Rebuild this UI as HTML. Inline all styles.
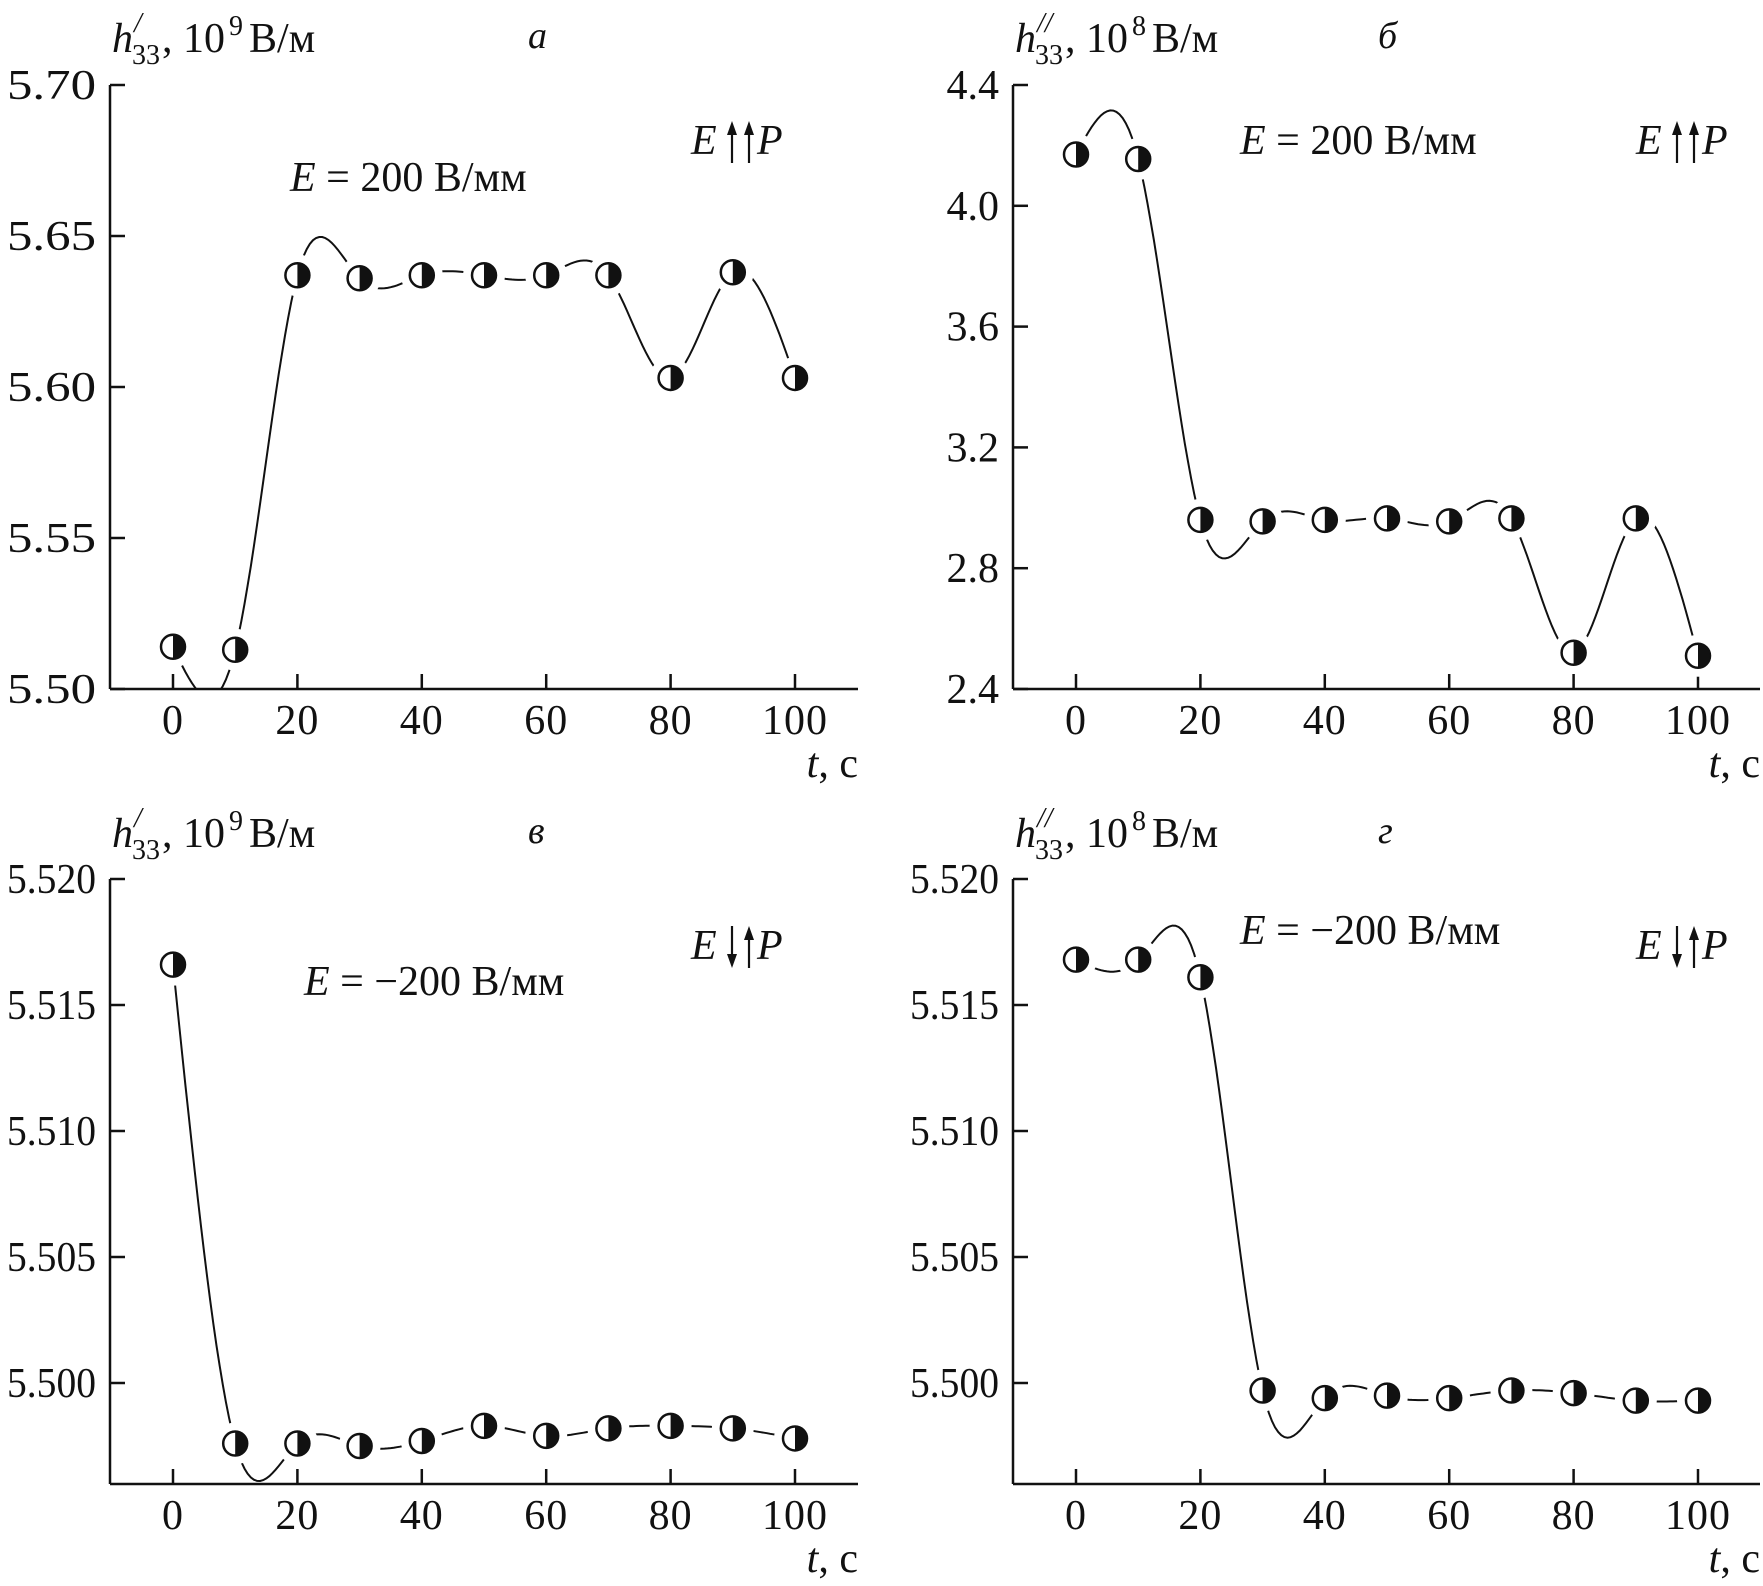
<!DOCTYPE html>
<html><head><meta charset="utf-8">
<style>
html,body{margin:0;padding:0;background:#fff;}
svg{display:block;}
text{font-family:"Liberation Serif",serif;fill:#111;}
</style></head>
<body>
<svg id="fig" width="1763" height="1586" viewBox="0 0 1763 1586" xmlns="http://www.w3.org/2000/svg"></svg>
<script>
const times = [0,10,20,30,40,50,60,70,80,90,100];
const seriesA = [5.514,5.513,5.637,5.636,5.637,5.637,5.637,5.637,5.603,5.638,5.603];
const seriesB = [4.17,4.155,2.96,2.955,2.96,2.965,2.955,2.965,2.52,2.965,2.51];
const seriesC = [5.5166,5.4976,5.4976,5.4975,5.4977,5.4983,5.4979,5.4982,5.4983,5.4982,5.4978];
const seriesD = [5.5168,5.5168,5.5161,5.4997,5.4994,5.4995,5.4994,5.4997,5.4996,5.4993,5.4993];
const xTicks = [0,20,40,60,80,100];
const yTicksA = [5.50,5.55,5.60,5.65,5.70];
const yTicksB = [2.4,2.8,3.2,3.6,4.0,4.4];
const yTicksC = [5.500,5.505,5.510,5.515,5.520];
const yTicksD = [5.500,5.505,5.510,5.515,5.520];

const NS="http://www.w3.org/2000/svg";
const svg=document.getElementById('fig');
function mk(tag,attrs,parent){const e=document.createElementNS(NS,tag);for(const k in attrs)e.setAttribute(k,attrs[k]);(parent||svg).appendChild(e);return e;}

function spline(xs,ys){
  const n=xs.length,h=[],al=[],l=[1],mu=[0],z=[0],c=new Array(n).fill(0),b=[],d=[];
  for(let i=0;i<n-1;i++)h.push(xs[i+1]-xs[i]);
  for(let i=1;i<n-1;i++)al[i]=3/h[i]*(ys[i+1]-ys[i])-3/h[i-1]*(ys[i]-ys[i-1]);
  for(let i=1;i<n-1;i++){l[i]=2*(xs[i+1]-xs[i-1])-h[i-1]*mu[i-1];mu[i]=h[i]/l[i];z[i]=(al[i]-h[i-1]*z[i-1])/l[i];}
  for(let j=n-2;j>=0;j--){c[j]=z[j]-mu[j]*c[j+1];b[j]=(ys[j+1]-ys[j])/h[j]-h[j]*(c[j+1]+2*c[j])/3;d[j]=(c[j+1]-c[j])/(3*h[j]);}
  return t=>{let j=xs.findIndex((v,i)=>i<n-1&&t<=xs[i+1]);if(j<0)j=n-2;const dx=t-xs[j];return ys[j]+b[j]*dx+c[j]*dx*dx+d[j]*dx*dx*dx;};
}

function arrow(g,x,top,bot,up){
  mk('line',{x1:x,y1:up?top+10:top,x2:x,y2:up?bot:bot-10,stroke:'#111','stroke-width':2.2},g);
  if(up) mk('path',{d:`M${x-5},${top+14} L${x},${top} L${x+5},${top+14} Z`,fill:'#111'},g);
  else mk('path',{d:`M${x-5},${bot-14} L${x},${bot} L${x+5},${bot-14} Z`,fill:'#111'},g);
}

function panel(cfg){
  const g=mk('g',{});
  
  
  const X=v=>cfg.x0+v*(cfg.x100-cfg.x0)/100;
  const Y=v=>cfg.yTop+(cfg.yMax-v)*(cfg.yBot-cfg.yTop)/(cfg.yMax-cfg.yMin);
  const cid='clip'+cfg.id;
  const cp=mk('clipPath',{id:cid},g);
  mk('rect',{x:cfg.ax,y:cfg.yTop-40,width:cfg.axEnd-cfg.ax,height:cfg.axY-cfg.yTop+40},cp);
  const ya=mk('line',{x1:cfg.ax,y1:cfg.yTop,x2:cfg.ax,y2:cfg.axY,stroke:'#111','stroke-width':2.5},g);
  
  
  const xa=mk('line',{x1:cfg.ax,y1:cfg.axY,x2:cfg.axEnd,y2:cfg.axY,stroke:'#111','stroke-width':2.5},g);
  
  
  cfg.yTicks.forEach(v=>{
    const t=mk('line',{x1:cfg.ax,y1:Y(v),x2:cfg.ax+15,y2:Y(v),stroke:'#111','stroke-width':2.5},g);
    
    
    const s=v.toFixed(cfg.dec);
    const attrs={x:cfg.ax-14,y:Y(v)+14,'text-anchor':'end','font-size':42};
    if(s.length>=4){attrs.textLength=89;attrs.lengthAdjust='spacingAndGlyphs';}
    const lb=mk('text',attrs,g);
    
    
    lb.textContent=s;
  });
  xTicks.forEach(v=>{
    const t=mk('line',{x1:X(v),y1:cfg.axY,x2:X(v),y2:cfg.axY-15,stroke:'#111','stroke-width':2.5},g);
    
    
    const lb=mk('text',{x:X(v),y:cfg.axY+45,'text-anchor':'middle','font-size':42,'letter-spacing':1},g);
    
    
    lb.textContent=v;
  });
  const f=spline(times,cfg.data);
  let d='';
  for(let t=0;t<=100;t+=0.5){d+=(t===0?'M':'L')+X(t).toFixed(1)+','+Y(f(t)).toFixed(1);}
  const cg=mk('g',{'clip-path':'url(#'+cid+')'},g);
  const path=mk('path',{d:d,fill:'none',stroke:'#111','stroke-width':2},cg);
  
  
  times.forEach((t,i)=>{ mk('circle',{cx:X(t),cy:Y(cfg.data[i]),r:21,fill:'#fff'},g); });
  times.forEach((t,i)=>{
    const cx=X(t),cy=Y(cfg.data[i]),r=12;
    const m=mk('g',{},g);
    
    
    mk('circle',{cx:cx,cy:cy,r:r,fill:'#fff',stroke:'#111','stroke-width':2.5},m);
    mk('path',{d:`M${cx},${cy-r} A${r},${r} 0 0 1 ${cx},${cy+r} Z`,fill:'#111'},m);
  });
  const tx=cfg.ax+2, ty=cfg.titleY;
  const tg=mk('g',{},g);
  
  
  const t1=mk('text',{x:tx,y:ty,'font-size':42,'font-style':'italic'},tg); t1.textContent='h';
  const t2=mk('text',{x:tx+20,y:ty+12,'font-size':28},tg); t2.textContent='33';
  const t3=mk('text',{x:tx+22,y:ty-20,'font-size':28,'font-style':'italic'},tg); t3.textContent=cfg.prime;
  const t4=mk('text',{x:tx+50,y:ty,'font-size':42},tg); t4.textContent=', 10';
  const t5=mk('text',{x:tx+117,y:ty-17,'font-size':28},tg); t5.textContent=cfg.exp;
  const t6=mk('text',{x:tx+137,y:ty,'font-size':42},tg); t6.textContent='В/м';
  const pl=mk('text',{x:cfg.letterX,y:cfg.titleY-4,'font-size':38,'font-style':'italic'},g);
  
  
  pl.textContent=cfg.letter;
  const el=mk('text',{x:cfg.eX,y:cfg.eY,'font-size':42},g);
  
  
  el.innerHTML='<tspan font-style="italic">E</tspan> = '+cfg.eText+' В/мм';
  const dg=mk('g',{},g);
  
  
  const de=mk('text',{x:cfg.dirX,y:cfg.dirY,'font-size':42,'font-style':'italic'},dg); de.textContent='E';
  arrow(dg,cfg.dirX+41,cfg.dirY-33,cfg.dirY+9,cfg.firstUp);
  arrow(dg,cfg.dirX+58,cfg.dirY-33,cfg.dirY+9,true);
  const dp=mk('text',{x:cfg.dirX+66,y:cfg.dirY,'font-size':42,'font-style':'italic'},dg); dp.textContent='P';
  const xt=mk('text',{x:cfg.axEnd,y:cfg.axY+88,'text-anchor':'end','font-size':42},g);
  
  
  xt.innerHTML='<tspan font-style="italic">t</tspan>, с';
}

const dx=903;
panel({id:'a',name:'panel-a',data:seriesA,yTicks:yTicksA,dec:2,yMin:5.50,yMax:5.70,yTop:85,yBot:689,axY:689,ax:110,axEnd:858,x0:173,x100:795,titleY:52,prime:'/',exp:'9',letter:'а',letterX:528,eText:'200',eX:290,eY:191,firstUp:true,dirX:691,dirY:154});
panel({id:'b',name:'panel-b',data:seriesB,yTicks:yTicksB,dec:1,yMin:2.4,yMax:4.4,yTop:85,yBot:689,axY:689,ax:110+dx,axEnd:1760,x0:173+dx,x100:795+dx,titleY:52,prime:'//',exp:'8',letter:'б',letterX:1378,eText:'200',eX:1240,eY:154,firstUp:true,dirX:1636,dirY:154});
panel({id:'c',name:'panel-c',data:seriesC,yTicks:yTicksC,dec:3,yMin:5.500,yMax:5.520,yTop:879,yBot:1383,axY:1484,ax:110,axEnd:858,x0:173,x100:795,titleY:847,prime:'/',exp:'9',letter:'в',letterX:528,eText:'−200',eX:304,eY:995,firstUp:false,dirX:691,dirY:959});
panel({id:'d',name:'panel-d',data:seriesD,yTicks:yTicksD,dec:3,yMin:5.500,yMax:5.520,yTop:879,yBot:1383,axY:1484,ax:110+dx,axEnd:1760,x0:173+dx,x100:795+dx,titleY:847,prime:'//',exp:'8',letter:'г',letterX:1378,eText:'−200',eX:1240,eY:944,firstUp:false,dirX:1636,dirY:959});
</script>
</body></html>
